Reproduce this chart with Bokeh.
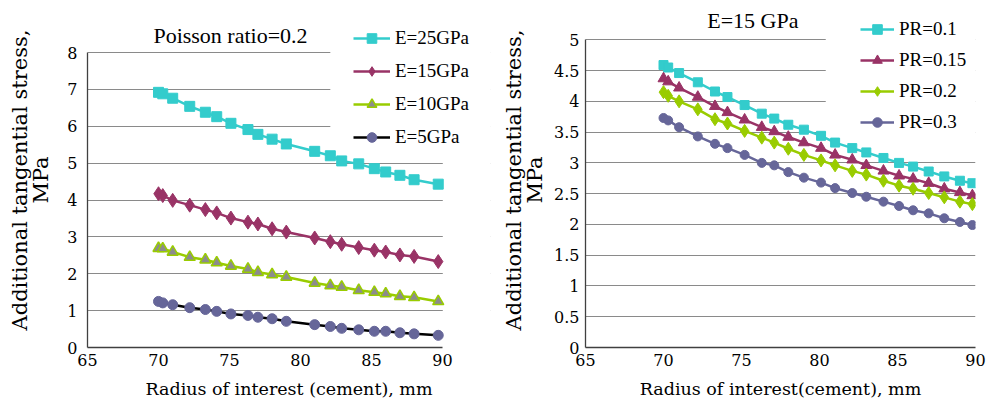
from bokeh.plotting import figure
from bokeh.models import Legend, LegendItem, BoxAnnotation, FixedTicker, CustomJSTickFormatter, Range1d, Label
from bokeh.layouts import row
from bokeh.embed import file_html
from bokeh.resources import INLINE

# ---------------- data ----------------
x_ticks = [65, 70, 75, 80, 85, 90]
y_ticks_left = [0, 1, 2, 3, 4, 5, 6, 7, 8]
y_ticks_right = [0, 0.5, 1, 1.5, 2, 2.5, 3, 3.5, 4, 4.5, 5]

# Left chart: Poisson ratio = 0.2
r_left = [70, 70.3, 71, 72.2, 73.3, 74.1, 75.1, 76.3, 77, 78, 79, 81, 82.1, 82.9, 84.1, 85.2, 86, 87, 88, 89.7]
e25 = [6.92, 6.88, 6.76, 6.54, 6.38, 6.26, 6.08, 5.91, 5.78, 5.65, 5.52, 5.32, 5.20, 5.06, 4.98, 4.85, 4.76, 4.67, 4.55, 4.43]
e15 = [4.17, 4.12, 3.99, 3.86, 3.74, 3.65, 3.51, 3.40, 3.35, 3.22, 3.13, 2.97, 2.87, 2.80, 2.71, 2.64, 2.59, 2.51, 2.47, 2.33]
e10 = [2.69, 2.68, 2.59, 2.45, 2.38, 2.30, 2.21, 2.13, 2.04, 1.98, 1.91, 1.75, 1.68, 1.64, 1.55, 1.50, 1.46, 1.39, 1.36, 1.25]
e5 = [1.25, 1.21, 1.16, 1.08, 1.03, 0.98, 0.91, 0.87, 0.82, 0.78, 0.71, 0.62, 0.57, 0.52, 0.48, 0.44, 0.44, 0.40, 0.37, 0.33]

# Right chart: E = 15 GPa
r_right = [70, 70.3, 71, 72.2, 73.3, 74.1, 75.2, 76.3, 77.1, 78, 79, 80.1, 81, 82.1, 83, 84.1, 85.1, 86, 87, 88, 89, 89.8]
pr01 = [4.59, 4.55, 4.46, 4.31, 4.16, 4.07, 3.94, 3.80, 3.72, 3.62, 3.54, 3.44, 3.33, 3.24, 3.17, 3.08, 3.00, 2.94, 2.86, 2.78, 2.71, 2.67]
pr015 = [4.37, 4.32, 4.22, 4.07, 3.92, 3.82, 3.70, 3.58, 3.51, 3.42, 3.33, 3.24, 3.13, 3.05, 2.96, 2.87, 2.79, 2.74, 2.67, 2.58, 2.52, 2.47]
pr02 = [4.15, 4.09, 4.00, 3.87, 3.71, 3.64, 3.52, 3.41, 3.33, 3.23, 3.13, 3.04, 2.96, 2.87, 2.81, 2.71, 2.63, 2.58, 2.51, 2.44, 2.37, 2.33]
pr03 = [3.73, 3.69, 3.58, 3.43, 3.31, 3.24, 3.13, 3.00, 2.96, 2.85, 2.76, 2.68, 2.59, 2.51, 2.45, 2.37, 2.30, 2.23, 2.18, 2.10, 2.04, 1.99]

left_title = "Poisson ratio=0.2"
right_title = "E=15 GPa"
left_names = ["E=25GPa", "E=15GPa", "E=10GPa", "E=5GPa"]
right_names = ["PR=0.1", "PR=0.15", "PR=0.2", "PR=0.3"]

FONT = "Nimbus Roman"
AXIS_FONT = "DejaVu Serif"
CYAN = "#33CCCC"
PLUM = "#993366"
LIME = "#99CC00"
SLATE = "#666699"
GRID = "#8a8a8a"
AXIS = "#404040"


def style(p, yticks, xlabel, tick_standoff_y, label_standoff_y, ybounds):
    p.outline_line_color = None
    p.xgrid.visible = False
    p.ygrid.grid_line_color = GRID
    p.ygrid.grid_line_width = 1
    p.ygrid.ticker = FixedTicker(ticks=yticks)
    p.xaxis.ticker = FixedTicker(ticks=x_ticks)
    p.yaxis.ticker = FixedTicker(ticks=yticks)
    p.xaxis.bounds = (x_ticks[0], x_ticks[-1])
    p.yaxis.bounds = ybounds
    p.yaxis.formatter = CustomJSTickFormatter(code="return String(tick);")
    for ax in (p.xaxis[0], p.yaxis[0]):
        ax.axis_line_color = AXIS
        ax.axis_line_width = 1.3
        ax.major_tick_out = 0
        ax.major_tick_in = 0
        ax.minor_tick_out = 0
        ax.minor_tick_in = 0
        ax.major_label_text_font = AXIS_FONT
        ax.major_label_text_font_size = "16px"
        ax.major_label_text_color = "#000000"
        ax.axis_label_text_font = AXIS_FONT
        ax.axis_label_text_font_style = "normal"
        ax.axis_label_text_color = "#000000"
    p.xaxis.axis_label = xlabel
    p.xaxis.axis_label_text_font_size = "17.5px"
    p.xaxis.major_label_standoff = 6
    p.xaxis.axis_label_standoff = 10
    p.yaxis.axis_label = "Additional tangential stress,\nMPa"
    p.yaxis.axis_label_text_font_size = "21px"
    p.yaxis.axis_label_text_line_height = 0.88
    p.yaxis.major_label_standoff = tick_standoff_y
    p.yaxis.axis_label_standoff = label_standoff_y


def make_legend(items, x, y, glyph_w, spacing):
    return Legend(items=items, location=(x, y), orientation="vertical",
                  glyph_width=glyph_w, glyph_height=24, label_height=24,
                  label_standoff=5, spacing=spacing, padding=4, margin=0,
                  border_line_color=None, background_fill_color="white",
                  background_fill_alpha=1.0, label_text_font=FONT,
                  label_text_font_size="19px", label_text_color="#000000")


def title_label(text, x, y):
    return Label(x=x, y=y, text=text, text_align="center", text_baseline="middle",
                 text_font=FONT, text_font_size="22px", text_color="#000000")


# ---------------- left chart ----------------
p1 = figure(width=498, height=408, x_range=Range1d(65, 93.38), y_range=Range1d(0, 9.085),
            output_backend="svg", toolbar_location=None,
            min_border_left=87, min_border_right=8, min_border_top=12, min_border_bottom=61)
style(p1, y_ticks_left, "Radius of interest (cement), mm", 10, 11, (0, 8))

# white panels standing for the legend box and the area right of the plot area
p1.add_layout(BoxAnnotation(left=82.1, right=93.5, bottom=5.6, top=9.2, fill_color="white",
                            fill_alpha=1.0, line_color=None, level="underlay"))
p1.add_layout(BoxAnnotation(left=90.02, right=93.5, bottom=-1, top=9.2, fill_color="white",
                            fill_alpha=1.0, line_color=None, level="underlay"))

l_a = p1.line(r_left, e25, line_color=CYAN, line_width=2.5)
s_a = p1.scatter(r_left, e25, marker="square", size=10, fill_color=CYAN, line_color=CYAN)
l_b = p1.line(r_left, e15, line_color=PLUM, line_width=2.5)
s_b = p1.scatter(r_left, e15, marker="diamond", size=14, fill_color=PLUM, line_color=PLUM)
l_c = p1.line(r_left, e10, line_color=LIME, line_width=2.5)
s_c = p1.scatter(r_left, e10, marker="triangle", size=11, fill_color="#8c8c8c", line_color=LIME, line_width=1.5)
l_d = p1.line(r_left, e5, line_color="#000000", line_width=2.5)
s_d = p1.scatter(r_left, e5, marker="circle", size=10, fill_color=SLATE, line_color=SLATE)

p1.add_layout(title_label(left_title, 75.07, 8.46))
leg1 = make_legend([LegendItem(label=left_names[0], renderers=[l_a, s_a]),
                    LegendItem(label=left_names[1], renderers=[l_b, s_b]),
                    LegendItem(label=left_names[2], renderers=[l_c, s_c]),
                    LegendItem(label=left_names[3], renderers=[l_d, s_d])],
                   266, 198, 37, 9)
p1.add_layout(leg1)

# ---------------- right chart ----------------
p2 = figure(width=499, height=408, x_range=Range1d(65, 90), y_range=Range1d(0, 5.444),
            output_backend="svg", toolbar_location=None,
            min_border_left=81, min_border_right=22, min_border_top=12, min_border_bottom=61)
style(p2, y_ticks_right, "Radius of interest(cement), mm", 6, 4, (0, 5))

p2.add_layout(BoxAnnotation(left=80.4, right=90.5, bottom=3.47, top=5.6, fill_color="white",
                            fill_alpha=1.0, line_color=None, level="underlay"))

m_a = p2.line(r_right, pr01, line_color=CYAN, line_width=2.5)
t_a = p2.scatter(r_right, pr01, marker="square", size=9, fill_color=CYAN, line_color=CYAN)
m_b = p2.line(r_right, pr015, line_color=PLUM, line_width=2.5)
t_b = p2.scatter(r_right, pr015, marker="triangle", size=11, fill_color=PLUM, line_color=PLUM)
m_c = p2.line(r_right, pr02, line_color=LIME, line_width=2.5)
t_c = p2.scatter(r_right, pr02, marker="diamond", size=13, fill_color=LIME, line_color=LIME)
m_d = p2.line(r_right, pr03, line_color=SLATE, line_width=2.5)
t_d = p2.scatter(r_right, pr03, marker="circle", size=9, fill_color=SLATE, line_color=SLATE)

p2.add_layout(title_label(right_title, 75.73, 5.314))
leg2 = make_legend([LegendItem(label=right_names[0], renderers=[m_a, t_a]),
                    LegendItem(label=right_names[1], renderers=[m_b, t_b]),
                    LegendItem(label=right_names[2], renderers=[m_c, t_c]),
                    LegendItem(label=right_names[3], renderers=[m_d, t_d])],
                   275, 213, 34, 7)
p2.add_layout(leg2)

layout = row(p1, p2)
open("out.html", "w").write(file_html(layout, INLINE))
